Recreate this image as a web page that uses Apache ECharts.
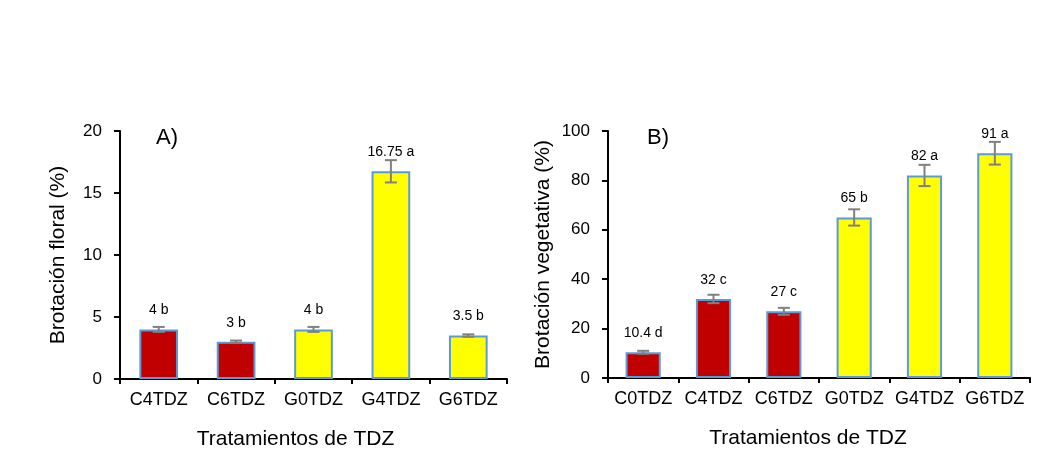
<!DOCTYPE html>
<html>
<head>
<meta charset="utf-8">
<script src="https://cdn.jsdelivr.net/npm/echarts@6/dist/echarts.min.js"></script>
<style>
  html, body { margin: 0; padding: 0; background: #fff; }
  #chart { width: 1060px; height: 455px; }
</style>
</head>
<body>
<div id="chart"></div>
<script>
// Panel A - brotación floral
var catsA = ['C4TDZ', 'C6TDZ', 'G0TDZ', 'G4TDZ', 'G6TDZ'];
var valuesA = [4, 3, 4, 16.75, 3.5];
var errA = [0.2, 0.1, 0.2, 0.9, 0.1];
var lettersA = ['b', 'b', 'b', 'a', 'b'];

// Panel B - brotación vegetativa
var catsB = ['C0TDZ', 'C4TDZ', 'C6TDZ', 'G0TDZ', 'G4TDZ', 'G6TDZ'];
var valuesB = [10.4, 32, 27, 65, 82, 91];
var errB = [0.6, 1.7, 1.4, 3.3, 4.3, 4.6];
var lettersB = ['d', 'c', 'c', 'b', 'a', 'a'];

var FONT = "'Liberation Sans', Arial, sans-serif";
var chart = echarts.init(document.getElementById('chart'));

function barData(cats, vals) {
    return vals.map(function (v, i) {
        return {
            value: v,
            itemStyle: { color: cats[i].charAt(0) === 'C' ? '#C00000' : '#FFFF00' }
        };
    });
}

function errData(vals, errs) {
    return vals.map(function (v, i) { return [i, v - errs[i], v + errs[i]]; });
}

function renderErr(params, api) {
    var lo = api.coord([api.value(0), api.value(1)]);
    var hi = api.coord([api.value(0), api.value(2)]);
    var w = 6;
    var st = { stroke: '#808080', lineWidth: 2 };
    return {
        type: 'group',
        children: [
            { type: 'line', shape: { x1: hi[0], y1: hi[1], x2: lo[0], y2: lo[1] }, style: st },
            { type: 'line', shape: { x1: hi[0] - w, y1: hi[1], x2: hi[0] + w, y2: hi[1] }, style: st },
            { type: 'line', shape: { x1: lo[0] - w, y1: lo[1], x2: lo[0] + w, y2: lo[1] }, style: st }
        ]
    };
}

function xAxisOf(cats, idx, shift) {
    return {
        type: 'category',
        gridIndex: idx,
        data: cats,
        name: 'Tratamientos de TDZ',
        nameLocation: 'middle',
        nameGap: 50,
        nameTextStyle: { fontFamily: FONT, fontSize: 21, color: '#000', padding: [0, shift * 2, 0, 0] },
        axisLine: { lineStyle: { color: '#000', width: 2 } },
        axisTick: { show: true, length: 5, lineStyle: { color: '#000', width: 2 } },
        axisLabel: { interval: 0, fontFamily: FONT, fontSize: 18, color: '#000', margin: 12 }
    };
}

function yAxisOf(max, step, title, idx, gap) {
    return {
        type: 'value',
        gridIndex: idx,
        min: 0,
        max: max,
        interval: step,
        name: title,
        nameLocation: 'middle',
        nameGap: gap,
        nameTextStyle: { fontFamily: FONT, fontSize: 21, color: '#000' },
        splitLine: { show: false },
        axisLine: { show: true, lineStyle: { color: '#000', width: 2 } },
        axisTick: { show: true, length: 6, lineStyle: { color: '#000', width: 2 } },
        axisLabel: { fontFamily: FONT, fontSize: 17, color: '#000', margin: 18 }
    };
}

function barSeries(cats, vals, letters, idx) {
    return {
        type: 'bar',
        xAxisIndex: idx,
        yAxisIndex: idx,
        data: barData(cats, vals),
        barWidth: '50%',
        itemStyle: { borderColor: '#5B9BD5', borderWidth: 2 },
        label: {
            show: true,
            position: 'top',
            distance: 12,
            fontFamily: FONT,
            fontSize: 14,
            color: '#000',
            formatter: function (p) { return vals[p.dataIndex] + ' ' + letters[p.dataIndex]; }
        },
        silent: true
    };
}

function errSeries(vals, errs, idx) {
    return {
        type: 'custom',
        xAxisIndex: idx,
        yAxisIndex: idx,
        data: errData(vals, errs),
        renderItem: renderErr,
        encode: { x: 0, y: [1, 2] },
        z: 5,
        silent: true
    };
}

chart.setOption({
    animation: false,
    backgroundColor: '#fff',
    grid: [
        { left: 120, top: 131, width: 387, height: 248 },
        { left: 608, top: 131, width: 422, height: 247 }
    ],
    graphic: [
        { type: 'text', left: 156, top: 127, style: { text: 'A)', font: '22px ' + FONT, fill: '#000' } },
        { type: 'text', left: 647, top: 127, style: { text: 'B)', font: '22px ' + FONT, fill: '#000' } }
    ],
    xAxis: [xAxisOf(catsA, 0, 18), xAxisOf(catsB, 1, 11)],
    yAxis: [
        yAxisOf(20, 5, 'Brotación floral (%)', 0, 51),
        yAxisOf(100, 20, 'Brotación vegetativa (%)', 1, 54)
    ],
    series: [
        barSeries(catsA, valuesA, lettersA, 0),
        errSeries(valuesA, errA, 0),
        barSeries(catsB, valuesB, lettersB, 1),
        errSeries(valuesB, errB, 1)
    ]
});
</script>
</body>
</html>
